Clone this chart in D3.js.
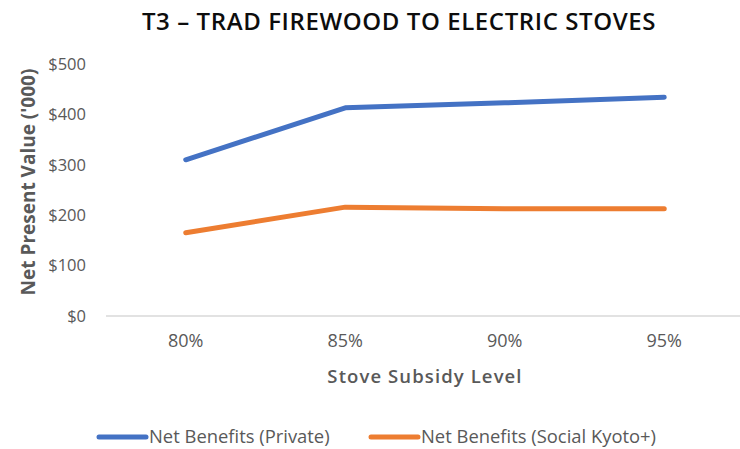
<!DOCTYPE html>
<html>
<head>
<meta charset="utf-8">
<script src="https://cdn.jsdelivr.net/npm/d3@7"></script>
<style>
  html, body { margin: 0; padding: 0; background: #fff; }
  svg { display: block; font-family: "Open Sans", "Liberation Sans", sans-serif; }
</style>
</head>
<body>
<svg id="chart" width="740" height="449"></svg>
<script>
// Subsidy levels along the x axis
const categories = ["80%", "85%", "90%", "95%"];
// Net present value, thousands of dollars
const privateBenefits = [310, 413, 423, 434];
const socialBenefits = [165, 216, 213, 213];
const yTicks = [0, 100, 200, 300, 400, 500];

const seriesNames = ["Net Benefits (Private)", "Net Benefits (Social Kyoto+)"];
const seriesColors = ["#4472C4", "#ED7D31"];

const series = [
  { name: seriesNames[0], color: seriesColors[0], values: privateBenefits },
  { name: seriesNames[1], color: seriesColors[1], values: socialBenefits }
];

const svg = d3.select("#chart");
const plot = { left: 106, right: 744, top: 64, bottom: 316 };

const x = d3.scaleBand().domain(categories).range([plot.left, plot.right]);
const y = d3.scaleLinear().domain([0, 500]).range([plot.bottom, plot.top]);

// Title
svg.append("text")
  .attr("x", 399).attr("y", 30)
  .attr("text-anchor", "middle")
  .attr("font-size", 24)
  .attr("font-weight", 600)
  .attr("letter-spacing", 0.6)
  .attr("fill", "#0d0d0d")
  .text("T3 – TRAD FIREWOOD TO ELECTRIC STOVES");

// Y axis labels (no line, no ticks)
const yAxis = d3.axisLeft(y).tickValues(yTicks).tickFormat(d => "$" + d).tickSize(0).tickPadding(0);
const gy = svg.append("g").attr("transform", `translate(86,0)`).call(yAxis);
gy.select(".domain").remove();
gy.selectAll("text").attr("font-size", 16.5).attr("fill", "#595959")
  .attr("font-family", "'Open Sans', sans-serif");

// Baseline
svg.append("line")
  .attr("x1", plot.left).attr("x2", plot.right)
  .attr("y1", y(0)).attr("y2", y(0))
  .attr("stroke", "#d9d9d9").attr("stroke-width", 1.5);

// X axis labels
const xAxis = d3.axisBottom(x).tickSize(0).tickPadding(0);
const gx = svg.append("g").attr("transform", `translate(0,334)`).call(xAxis);
gx.select(".domain").remove();
gx.selectAll("text").attr("font-size", 18).attr("fill", "#595959")
  .attr("font-family", "'Open Sans', sans-serif");

// Axis titles
svg.append("text")
  .attr("x", 425).attr("y", 383)
  .attr("text-anchor", "middle")
  .attr("font-size", 18.5).attr("font-weight", 600).attr("letter-spacing", 1.1)
  .attr("fill", "#595959")
  .text("Stove Subsidy Level");

svg.append("text")
  .attr("transform", `translate(35,182) rotate(-90)`)
  .attr("text-anchor", "middle")
  .attr("font-size", 19).attr("font-weight", 700).attr("fill", "#595959")
  .text("Net Present Value ('000)");

// Lines
const line = d3.line()
  .x((d, i) => x(categories[i]) + x.bandwidth() / 2)
  .y(d => y(d));

svg.selectAll("path.series")
  .data(series)
  .join("path")
  .attr("class", "series")
  .attr("d", d => line(d.values))
  .attr("fill", "none")
  .attr("stroke", d => d.color)
  .attr("stroke-width", 5)
  .attr("stroke-linecap", "round")
  .attr("stroke-linejoin", "round");

// Legend
const legendX = [99, 371];
const legend = svg.selectAll("g.legend")
  .data(series)
  .join("g")
  .attr("class", "legend")
  .attr("transform", (d, i) => `translate(${legendX[i]},437)`);
legend.append("line")
  .attr("x1", 0).attr("x2", 47)
  .attr("stroke", d => d.color).attr("stroke-width", 5).attr("stroke-linecap", "round");
legend.append("text")
  .attr("x", 50).attr("dy", "0.35em")
  .attr("font-size", 18.4).attr("fill", "#595959")
  .text(d => d.name);
</script>
</body>
</html>
